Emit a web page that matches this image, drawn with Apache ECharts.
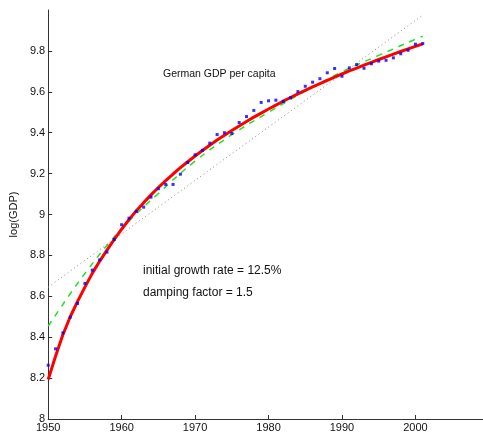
<!DOCTYPE html>
<html>
<head>
<meta charset="utf-8">
<script src="https://cdn.jsdelivr.net/npm/echarts@6/dist/echarts.min.js"></script>
<style>
  html, body { margin: 0; padding: 0; background: #fff; }
  #chart { width: 483px; height: 439px; }
</style>
</head>
<body>
<div id="chart"></div>
<script>
// Observed log GDP per capita, Germany
const years = [1950,1951,1952,1953,1954,1955,1956,1957,1958,1959,
               1960,1961,1962,1963,1964,1965,1966,1967,1968,1969,
               1970,1971,1972,1973,1974,1975,1976,1977,1978,1979,
               1980,1981,1982,1983,1984,1985,1986,1987,1988,1989,
               1990,1991,1992,1993,1994,1995,1996,1997,1998,1999,
               2000,2001];
const logGdp = [8.263,8.343,8.421,8.498,8.565,8.663,8.728,8.778,8.816,8.878,
                8.950,8.982,9.015,9.036,9.085,9.126,9.147,9.147,9.197,9.254,
                9.292,9.314,9.349,9.391,9.400,9.396,9.450,9.479,9.509,9.548,
                9.556,9.559,9.553,9.571,9.601,9.627,9.647,9.664,9.693,9.714,
                9.676,9.717,9.733,9.715,9.737,9.750,9.754,9.766,9.786,9.803,
                9.833,9.836];

// Damped growth fit (red), one value per year
const fitVals = [8.193,8.307,8.412,8.500,8.575,8.645,8.712,8.771,8.826,8.878,
                 8.928,8.975,9.018,9.058,9.096,9.132,9.166,9.198,9.229,9.258,
                 9.286,9.313,9.339,9.364,9.388,9.411,9.433,9.455,9.476,9.496,
                 9.516,9.535,9.554,9.572,9.590,9.607,9.624,9.640,9.656,9.672,
                 9.687,9.702,9.716,9.730,9.744,9.758,9.771,9.784,9.797,9.810,
                 9.822,9.834];

// Quadratic trend (green dashed)
const quadYears = [1950,1955,1960,1965,1970,1975,1980,1985,1990,1995,2000,2001];
const quadVals  = [8.454,8.712,8.930,9.103,9.261,9.390,9.500,9.603,9.698,9.778,9.857,9.872];

// Linear trend (gray dotted)
const linYears = [1950,2001];
const linVals  = [8.645,9.975];

const pair = (xs, ys) => xs.map((x, i) => [x, ys[i]]);

const chart = echarts.init(document.getElementById('chart'), null, { renderer: 'canvas' });
const font = 'Liberation Sans, Arial, Helvetica, sans-serif';

chart.setOption({
  animation: false,
  backgroundColor: '#ffffff',
  grid: { left: 46, right: 0, top: 10, bottom: 20, containLabel: false },
  xAxis: {
    type: 'value',
    min: 1950,
    max: 2009.2,
    interval: 10,
    axisLine: { show: true, lineStyle: { color: '#333', width: 1 } },
    axisTick: { show: true, inside: true, length: 4, lineStyle: { color: '#333' } },
    axisLabel: {
      showMaxLabel: false,
      color: '#111', fontFamily: font, fontSize: 11, margin: 3,
      formatter: v => String(v)
    },
    splitLine: { show: false }
  },
  yAxis: {
    type: 'value',
    min: 8,
    max: 10,
    interval: 0.2,
    name: 'log(GDP)',
    nameLocation: 'middle',
    nameGap: 27,
    nameRotate: 90,
    nameTextStyle: { color: '#111', fontFamily: font, fontSize: 11 },
    axisLine: { show: true, lineStyle: { color: '#333', width: 1 } },
    axisTick: { show: true, inside: true, length: 4, lineStyle: { color: '#333' } },
    axisLabel: {
      color: '#111', fontFamily: font, fontSize: 11, margin: 3,
      showMaxLabel: false,
      formatter: v => (Math.abs(v - 10) < 1e-6 ? '' : String(+v.toFixed(1)))
    },
    splitLine: { show: false }
  },
  series: [
    {
      type: 'line',
      data: pair(linYears, linVals),
      symbol: 'none',
      lineStyle: { color: '#888', width: 1, type: [1, 3] },
      z: 1
    },
    {
      type: 'line',
      data: pair(quadYears, quadVals),
      symbol: 'none',
      smooth: 0.4,
      lineStyle: { color: '#22e022', width: 1.5, type: [6, 6] },
      z: 2
    },
    {
      type: 'line',
      data: pair(years, fitVals),
      symbol: 'none',
      lineStyle: { color: '#ff0000', width: 3 },
      z: 3
    },
    {
      type: 'scatter',
      data: pair(years, logGdp),
      symbol: 'rect',
      symbolSize: 3,
      itemStyle: { color: '#0000ff' },
      z: 4
    }
  ],
  graphic: [
    {
      type: 'text', left: 163, top: 69,
      style: { text: 'German GDP per capita', fill: '#111', font: '10.5px ' + font }
    },
    {
      type: 'text', left: 143, top: 265,
      style: { text: 'initial growth rate = 12.5%', fill: '#111', font: '12px ' + font }
    },
    {
      type: 'text', left: 143, top: 287,
      style: { text: 'damping factor = 1.5', fill: '#111', font: '12px ' + font }
    }
  ]
});
</script>
</body>
</html>
